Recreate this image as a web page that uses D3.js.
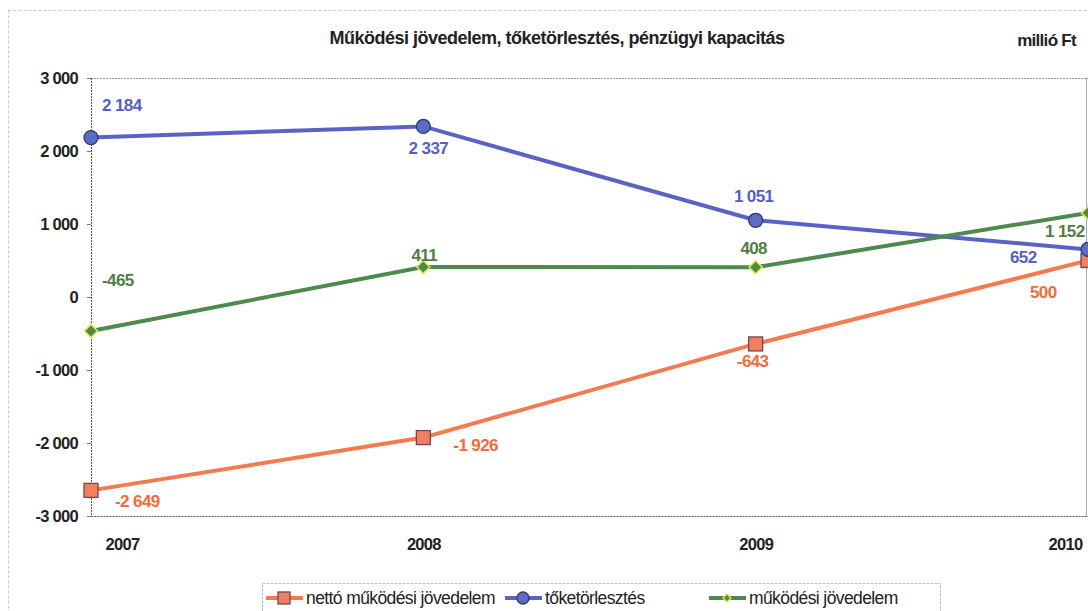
<!DOCTYPE html>
<html>
<head>
<meta charset="utf-8">
<script src="https://cdn.jsdelivr.net/npm/d3@7"></script>
<style>
  body { margin: 0; background: #fff; }
  svg { display: block; font-family: "Liberation Sans", Arial, sans-serif; }
  .tick-label { font-size: 16.5px; font-weight: bold; fill: #222; letter-spacing: -0.7px; }
  .val { font-size: 17px; font-weight: bold; letter-spacing: -0.6px; }
</style>
</head>
<body>
<div id="chart"></div>
<script>
const years = ["2007", "2008", "2009", "2010"];
const nettoMukodesi = [-2649, -1926, -643, 500];
const toketorlesztes = [2184, 2337, 1051, 652];
const mukodesi = [-465, 411, 408, 1152];
const yTicks = [-3000, -2000, -1000, 0, 1000, 2000, 3000];
const seriesNames = ["nettó működési jövedelem", "tőketörlesztés", "működési jövedelem"];

const W = 1088, H = 611;
const plot = {left: 91, right: 1088, top: 78, bottom: 516};

const x = d3.scalePoint().domain(years).range([plot.left, plot.right]);
const y = d3.scaleLinear().domain([-3000, 3000]).range([plot.bottom, plot.top]);
const fmt = v => d3.format(",")(v).replace(/,/g, " ").replace("−", "-");

const series = [
  {name: seriesNames[0], values: nettoMukodesi, line: "#f47a50", fill: "#f2805e", stroke: "#6a4a5a", text: "#f26b3c", shape: "square",
   offs: [[24, 17], [30, 13], [-3, 23], [-58, 37]], anchor: ["start", "start", "middle", "start"]},
  {name: seriesNames[1], values: toketorlesztes, line: "#5a62c6", fill: "#5a6cc6", stroke: "#333a60", text: "#5560c4", shape: "circle",
   offs: [[11, -27], [5, 28], [-2, -18], [-78, 14]], anchor: ["start", "middle", "middle", "start"]},
  {name: seriesNames[2], values: mukodesi, line: "#4d8a4d", fill: "#4d8a48", stroke: "#e8e050", text: "#4f7e44", shape: "diamond",
   offs: [[11, -45], [1, -6], [-2, -13], [-43, 24]], anchor: ["start", "middle", "middle", "start"]}
];

const svg = d3.select("#chart").append("svg").attr("width", W).attr("height", H);

// outer frame
svg.append("rect").attr("x", 8.5).attr("y", 10.5).attr("width", W + 20).attr("height", H + 20)
  .attr("fill", "none").attr("stroke", "#c8c8c8").attr("stroke-dasharray", "3,2");

// title
svg.append("text").attr("x", 557).attr("y", 44).attr("text-anchor", "middle")
  .style("font-size", "18px").style("font-weight", "bold").style("letter-spacing", "-0.5px").attr("fill", "#222")
  .text("Működési jövedelem, tőketörlesztés, pénzügyi kapacitás");
svg.append("text").attr("x", 1076).attr("y", 46).attr("text-anchor", "end")
  .style("font-size", "17px").style("font-weight", "bold").style("letter-spacing", "-0.7px").attr("fill", "#222")
  .text("millió Ft");

// plot border
svg.append("line").attr("x1", plot.left).attr("x2", plot.right).attr("y1", plot.top + 0.5).attr("y2", plot.top + 0.5)
  .attr("stroke", "#999").attr("stroke-dasharray", "2,1");
svg.append("line").attr("x1", plot.right - 1.5).attr("x2", plot.right - 1.5).attr("y1", plot.top).attr("y2", plot.bottom)
  .attr("stroke", "#aaa");

// axes
const yAxis = svg.append("g").attr("transform", `translate(${plot.left},0)`)
  .call(d3.axisLeft(y).tickValues(yTicks).tickSize(4).tickPadding(9).tickFormat(fmt));
yAxis.select(".domain").attr("stroke", "#555").attr("stroke-dasharray", "2,1");
yAxis.selectAll(".tick line").attr("stroke", "#777");
yAxis.selectAll(".tick text").attr("class", "tick-label").attr("dy", "0.35em");

const xAxis = svg.append("g").attr("transform", `translate(0,${plot.bottom})`)
  .call(d3.axisBottom(x).tickSize(0).tickPadding(22));
xAxis.select(".domain").attr("stroke", "#555").attr("stroke-dasharray", "2,1");
xAxis.selectAll(".tick text").attr("class", "tick-label").attr("dx", (d, i) => i === 0 ? 31 : (i === 3 ? -23 : 0));

const line = d3.line().x((d, i) => x(years[i])).y(d => y(d));

function marker(g, shape, s) {
  if (shape === "square") return g.append("rect").attr("x", -s).attr("y", -s).attr("width", 2 * s).attr("height", 2 * s);
  if (shape === "circle") return g.append("circle").attr("r", s);
  return g.append("path").attr("d", `M0,${-s}L${s},0L0,${s}L${-s},0Z`);
}

series.forEach(s => {
  svg.append("path").datum(s.values).attr("d", line)
    .attr("fill", "none").attr("stroke", s.line).attr("stroke-width", 4);
});

series.forEach(s => {
  s.values.forEach((v, i) => {
    const g = svg.append("g").attr("transform", `translate(${x(years[i])},${y(v)})`);
    const size = s.shape === "square" ? 7 : (s.shape === "circle" ? 7 : 6.5);
    marker(g, s.shape, size).attr("fill", s.fill).attr("stroke", s.stroke).attr("stroke-width", s.shape === "diamond" ? 1.6 : 1.3);
    svg.append("text").attr("class", "val")
      .attr("x", x(years[i]) + s.offs[i][0]).attr("y", y(v) + s.offs[i][1])
      .attr("text-anchor", s.anchor[i]).attr("fill", s.text).text(fmt(v));
  });
});

// legend
const leg = svg.append("g");
leg.append("rect").attr("x", 262.5).attr("y", 583.5).attr("width", 678).attr("height", 40)
  .attr("fill", "#fff").attr("stroke", "#bbb").attr("stroke-dasharray", "3,1");
const legX = [266, 505, 709];
series.forEach((s, i) => {
  const g = leg.append("g").attr("transform", `translate(${legX[i]},598)`);
  g.append("line").attr("x1", 0).attr("x2", 37).attr("stroke", s.line).attr("stroke-width", 4);
  const m = g.append("g").attr("transform", "translate(18,0)");
  marker(m, s.shape, s.shape === "diamond" ? 4 : 6).attr("fill", s.fill).attr("stroke", s.stroke).attr("stroke-width", 1.3);
  g.append("text").attr("x", 40).attr("y", 6).style("font-size", "17.5px").style("letter-spacing", "-0.6px")
    .attr("fill", "#222").text(s.name);
});
</script>
</body>
</html>
